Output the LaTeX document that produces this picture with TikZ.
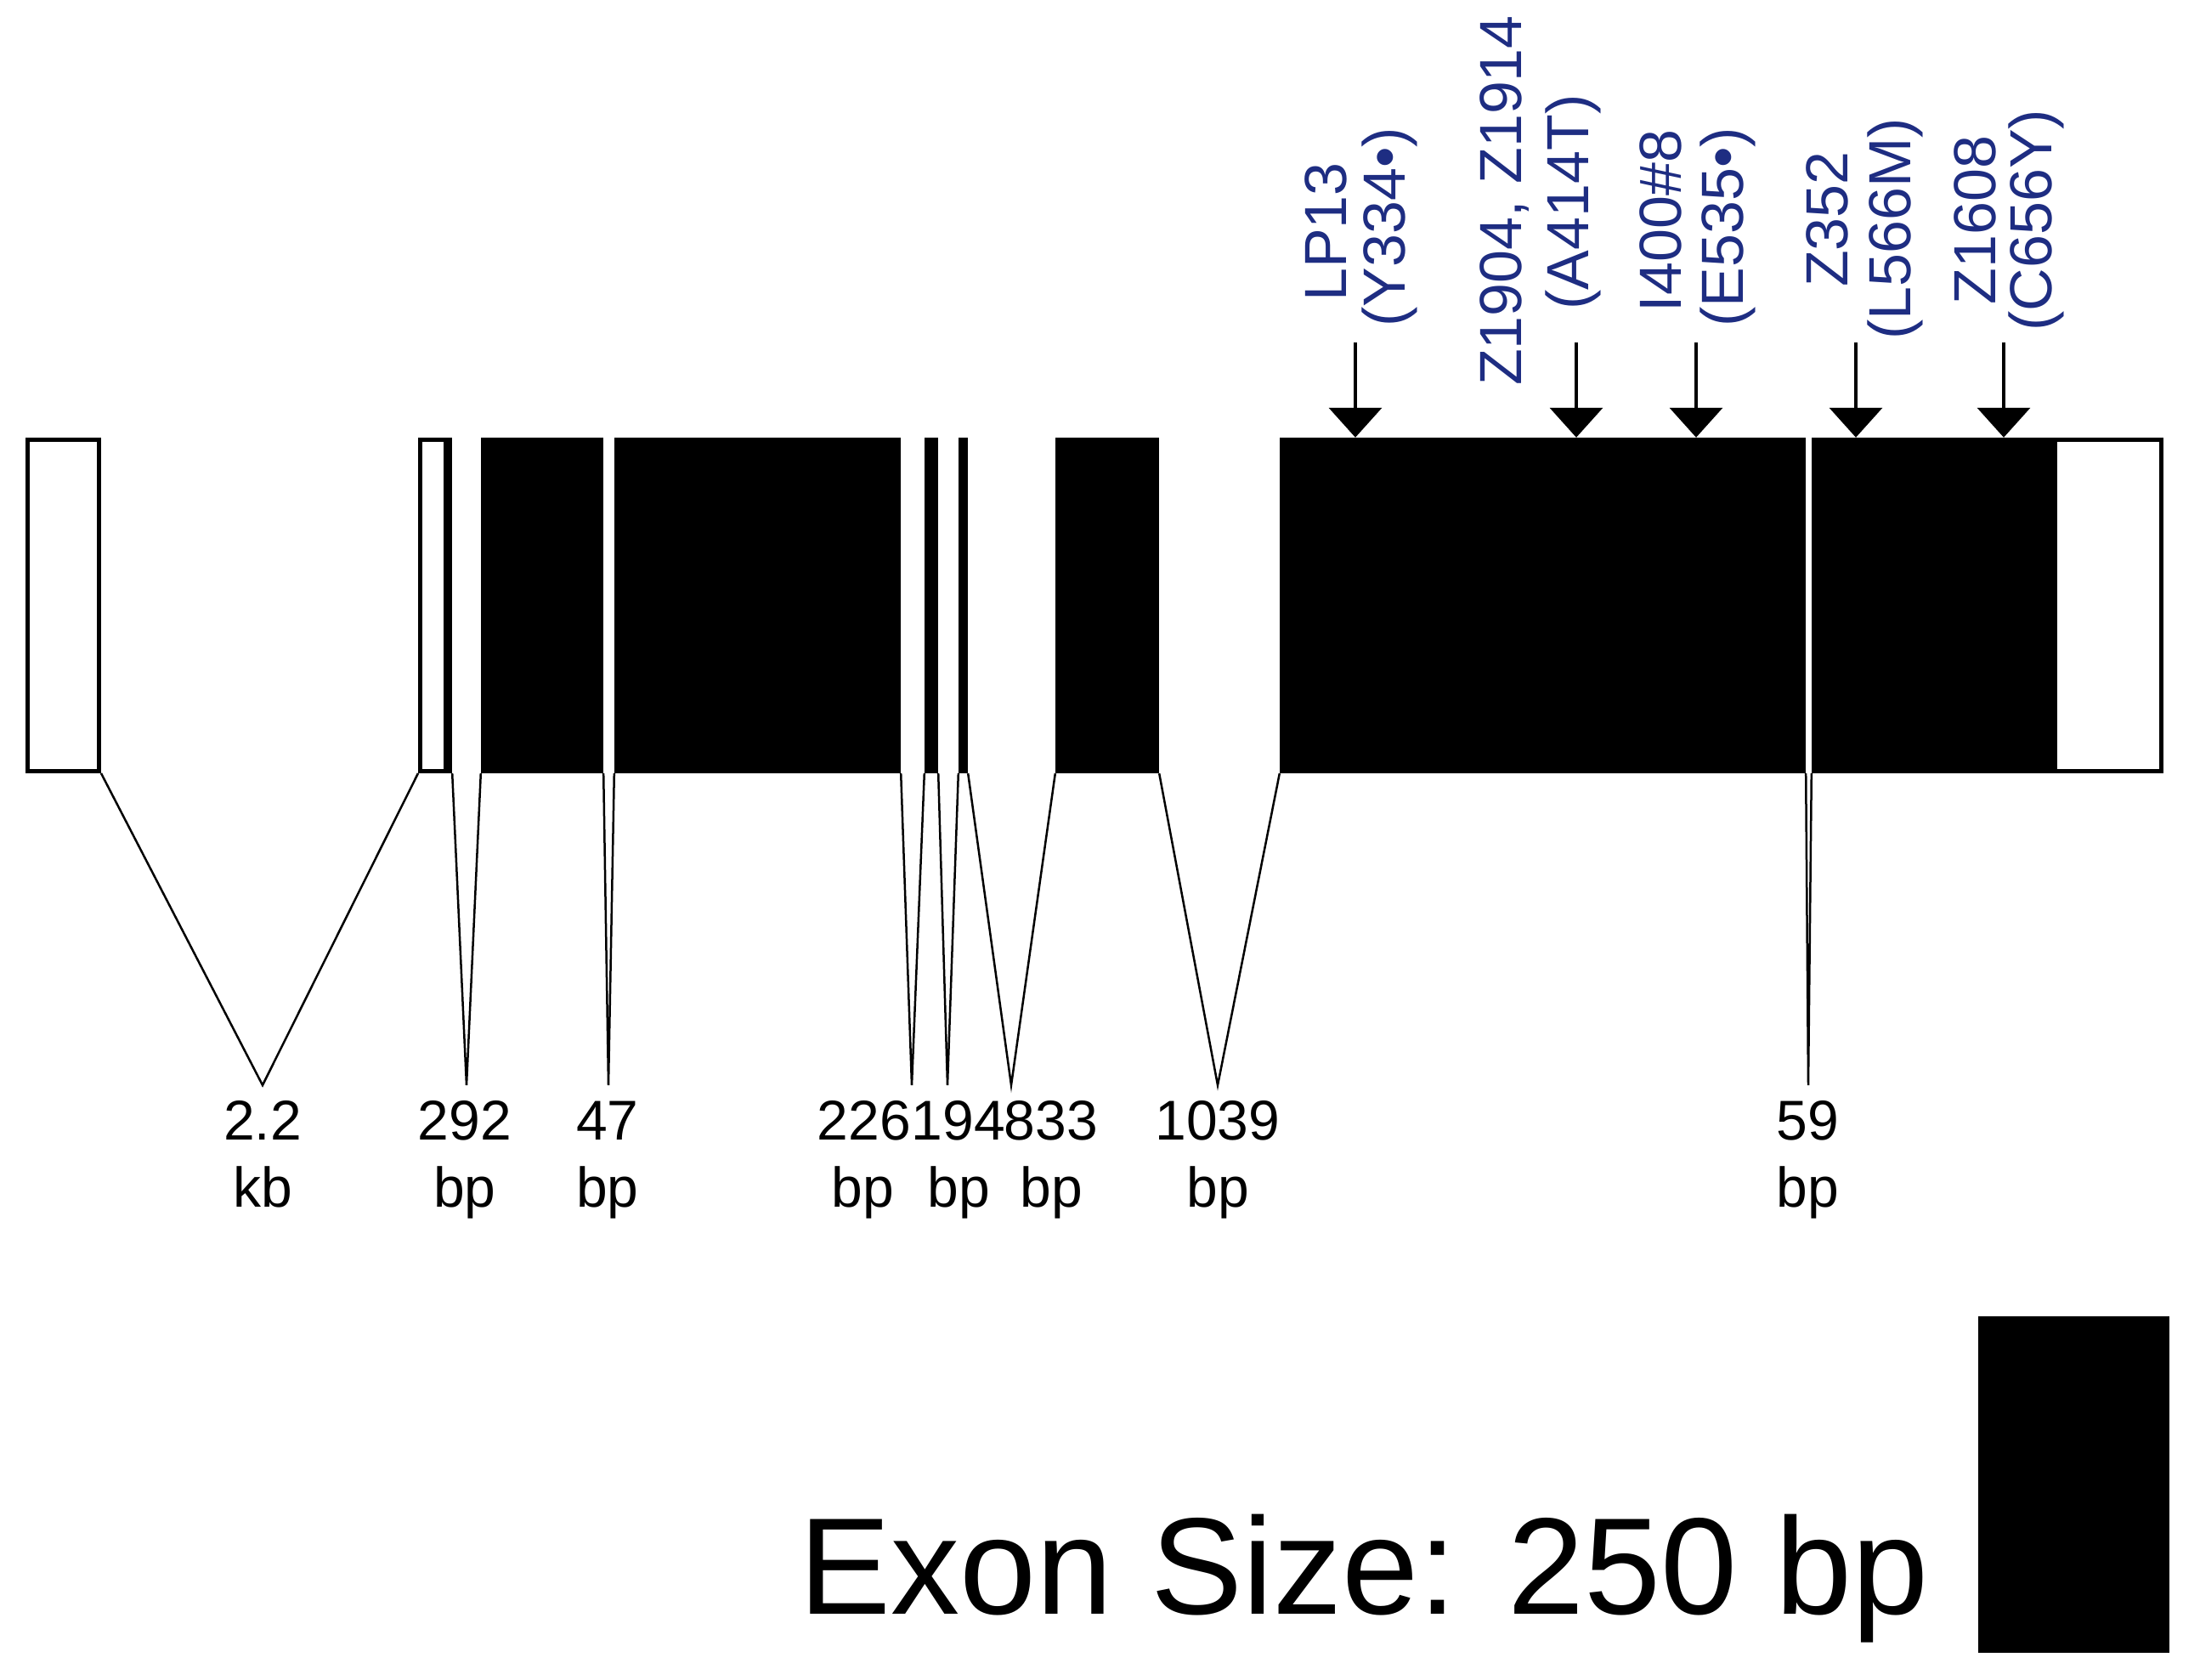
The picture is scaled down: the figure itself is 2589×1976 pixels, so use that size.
\documentclass[tikz,border=0pt]{standalone}
\usepackage{fontspec}
\setmainfont{Liberation Sans}
\usetikzlibrary{arrows.meta}
\definecolor{lblblue}{RGB}{30,45,130}
\begin{document}
\begin{tikzpicture}[x=1pt,y=-1pt,
  utr/.style={rectangle, draw=black, fill=white, line width=5pt, inner sep=0pt, minimum height=390pt},
  cds/.style={rectangle, fill=black, draw=none, inner sep=0pt, minimum height=395pt},
  intron/.style={line width=2.5pt, black, line join=miter},
  mut/.style={line width=4pt, -{Triangle[width=62pt,length=35pt]}},
  toplbl/.style={rotate=90, anchor=base, inner sep=0pt, text=lblblue, font=\fontsize{70}{80}\selectfont},
  sizelbl/.style={anchor=base, inner sep=0pt, font=\fontsize{66}{76}\selectfont},
]
\useasboundingbox (0,0) rectangle (2589,1976);

% exons
\node[utr, minimum width=84pt] (e1) at (74.5,712.5) {};
\node[utr, minimum width=35pt] (e2) at (512,712.5) {};
\node[cds, minimum width=10pt] (e2c) at (527,712.5) {};
\node[cds, minimum width=144pt] (e3) at (638,712.5) {};
\node[cds, minimum width=337pt] (e4) at (891.5,712.5) {};
\node[cds, minimum width=16pt] (e5) at (1096,712.5) {};
\node[cds, minimum width=11pt] (e6) at (1133.5,712.5) {};
\node[cds, minimum width=122pt] (e7) at (1303,712.5) {};
\node[cds, minimum width=619pt] (e8) at (1815.5,712.5) {};
\node[utr, minimum width=125pt] (e9u) at (2481,712.5) {};
\node[cds, minimum width=286pt] (e9) at (2275,712.5) {};

% introns
\coordinate (a1) at (309,1277);
\coordinate (a2) at (549,1277);
\coordinate (a3) at (716,1277);
\coordinate (a4) at (1073,1277);
\coordinate (a5) at (1115,1277);
\coordinate (a6) at (1190,1277);
\coordinate (a7) at (1433,1277);
\coordinate (a8) at (2128,1277);
\draw[intron] (e1.south east) -- (a1) -- (e2.south west);
\draw[intron] (e2c.south east) -- (a2) -- (e3.south west);
\draw[intron] (e3.south east) -- (a3) -- (e4.south west);
\draw[intron] (e4.south east) -- (a4) -- (e5.south west);
\draw[intron] (e5.south east) -- (a5) -- (e6.south west);
\draw[intron] (e6.south east) -- (a6) -- (e7.south west);
\draw[intron] (e7.south east) -- (a7) -- (e8.south west);
\draw[intron] (e8.south east) -- (a8) -- (e9.south west);

% intron sizes
\node[sizelbl] (n1) at (309,1341) {2.2};  \node[sizelbl] (u1) at (309,1420) {kb};
\node[sizelbl] (n2) at (547,1341) {292};  \node[sizelbl] (u2) at (547,1420) {bp};
\node[sizelbl] (n3) at (715,1341) {47};   \node[sizelbl] (u3) at (715,1420) {bp};
\node[sizelbl] (n4) at (1017,1341) {226}; \node[sizelbl] (u4) at (1015,1420) {bp};
\node[sizelbl] (n5) at (1128,1341) {194}; \node[sizelbl] (u5) at (1128,1420) {bp};
\node[sizelbl] (n6) at (1237,1341) {833}; \node[sizelbl] (u6) at (1237,1420) {bp};
\node[sizelbl] (n7) at (1433,1341) {1039};\node[sizelbl] (u7) at (1433,1420) {bp};
\node[sizelbl] (n8) at (2127,1341) {59};  \node[sizelbl] (u8) at (2127,1420) {bp};

% mutation arrows
\coordinate (m1) at (1595,403);
\coordinate (m2) at (1855,403);
\coordinate (m3) at (1996,403);
\coordinate (m4) at (2184,403);
\coordinate (m5) at (2358,403);
\draw[mut] (m1) -- (m1 |- e8.north);
\draw[mut] (m2) -- (m2 |- e8.north);
\draw[mut] (m3) -- (m3 |- e8.north);
\draw[mut] (m4) -- (m4 |- e9.north);
\draw[mut] (m5) -- (m5 |- e9.north);

% mutation labels
\node[toplbl] (l1a) at (1584,273) {LP13};
\node[toplbl] (l1b) at (1653,267) {(Y334•)};
\node[toplbl] (l2a) at (1790,236) {Z1904, Z1914};
\node[toplbl] (l2b) at (1869,238) {(A414T)};
\node[toplbl] (l3a) at (1978,260) {I400\#8};
\node[toplbl] (l3b) at (2051,267) {(E535•)};
\node[toplbl] (l4a) at (2174,258) {Z352};
\node[toplbl] (l4b) at (2248,269) {(L566M)};
\node[toplbl] (l5a) at (2348,259) {Z1608};
\node[toplbl] (l5b) at (2414,259) {(C656Y)};

% scale
\node[cds, minimum width=225pt, minimum height=396pt] (sb) at (2440.5,1747) {};
\node[anchor=base, inner sep=0pt, font=\fontsize{162}{190}\selectfont] (st) at (1605,1899) {Exon Size: 250 bp};
\end{tikzpicture}
\end{document}
